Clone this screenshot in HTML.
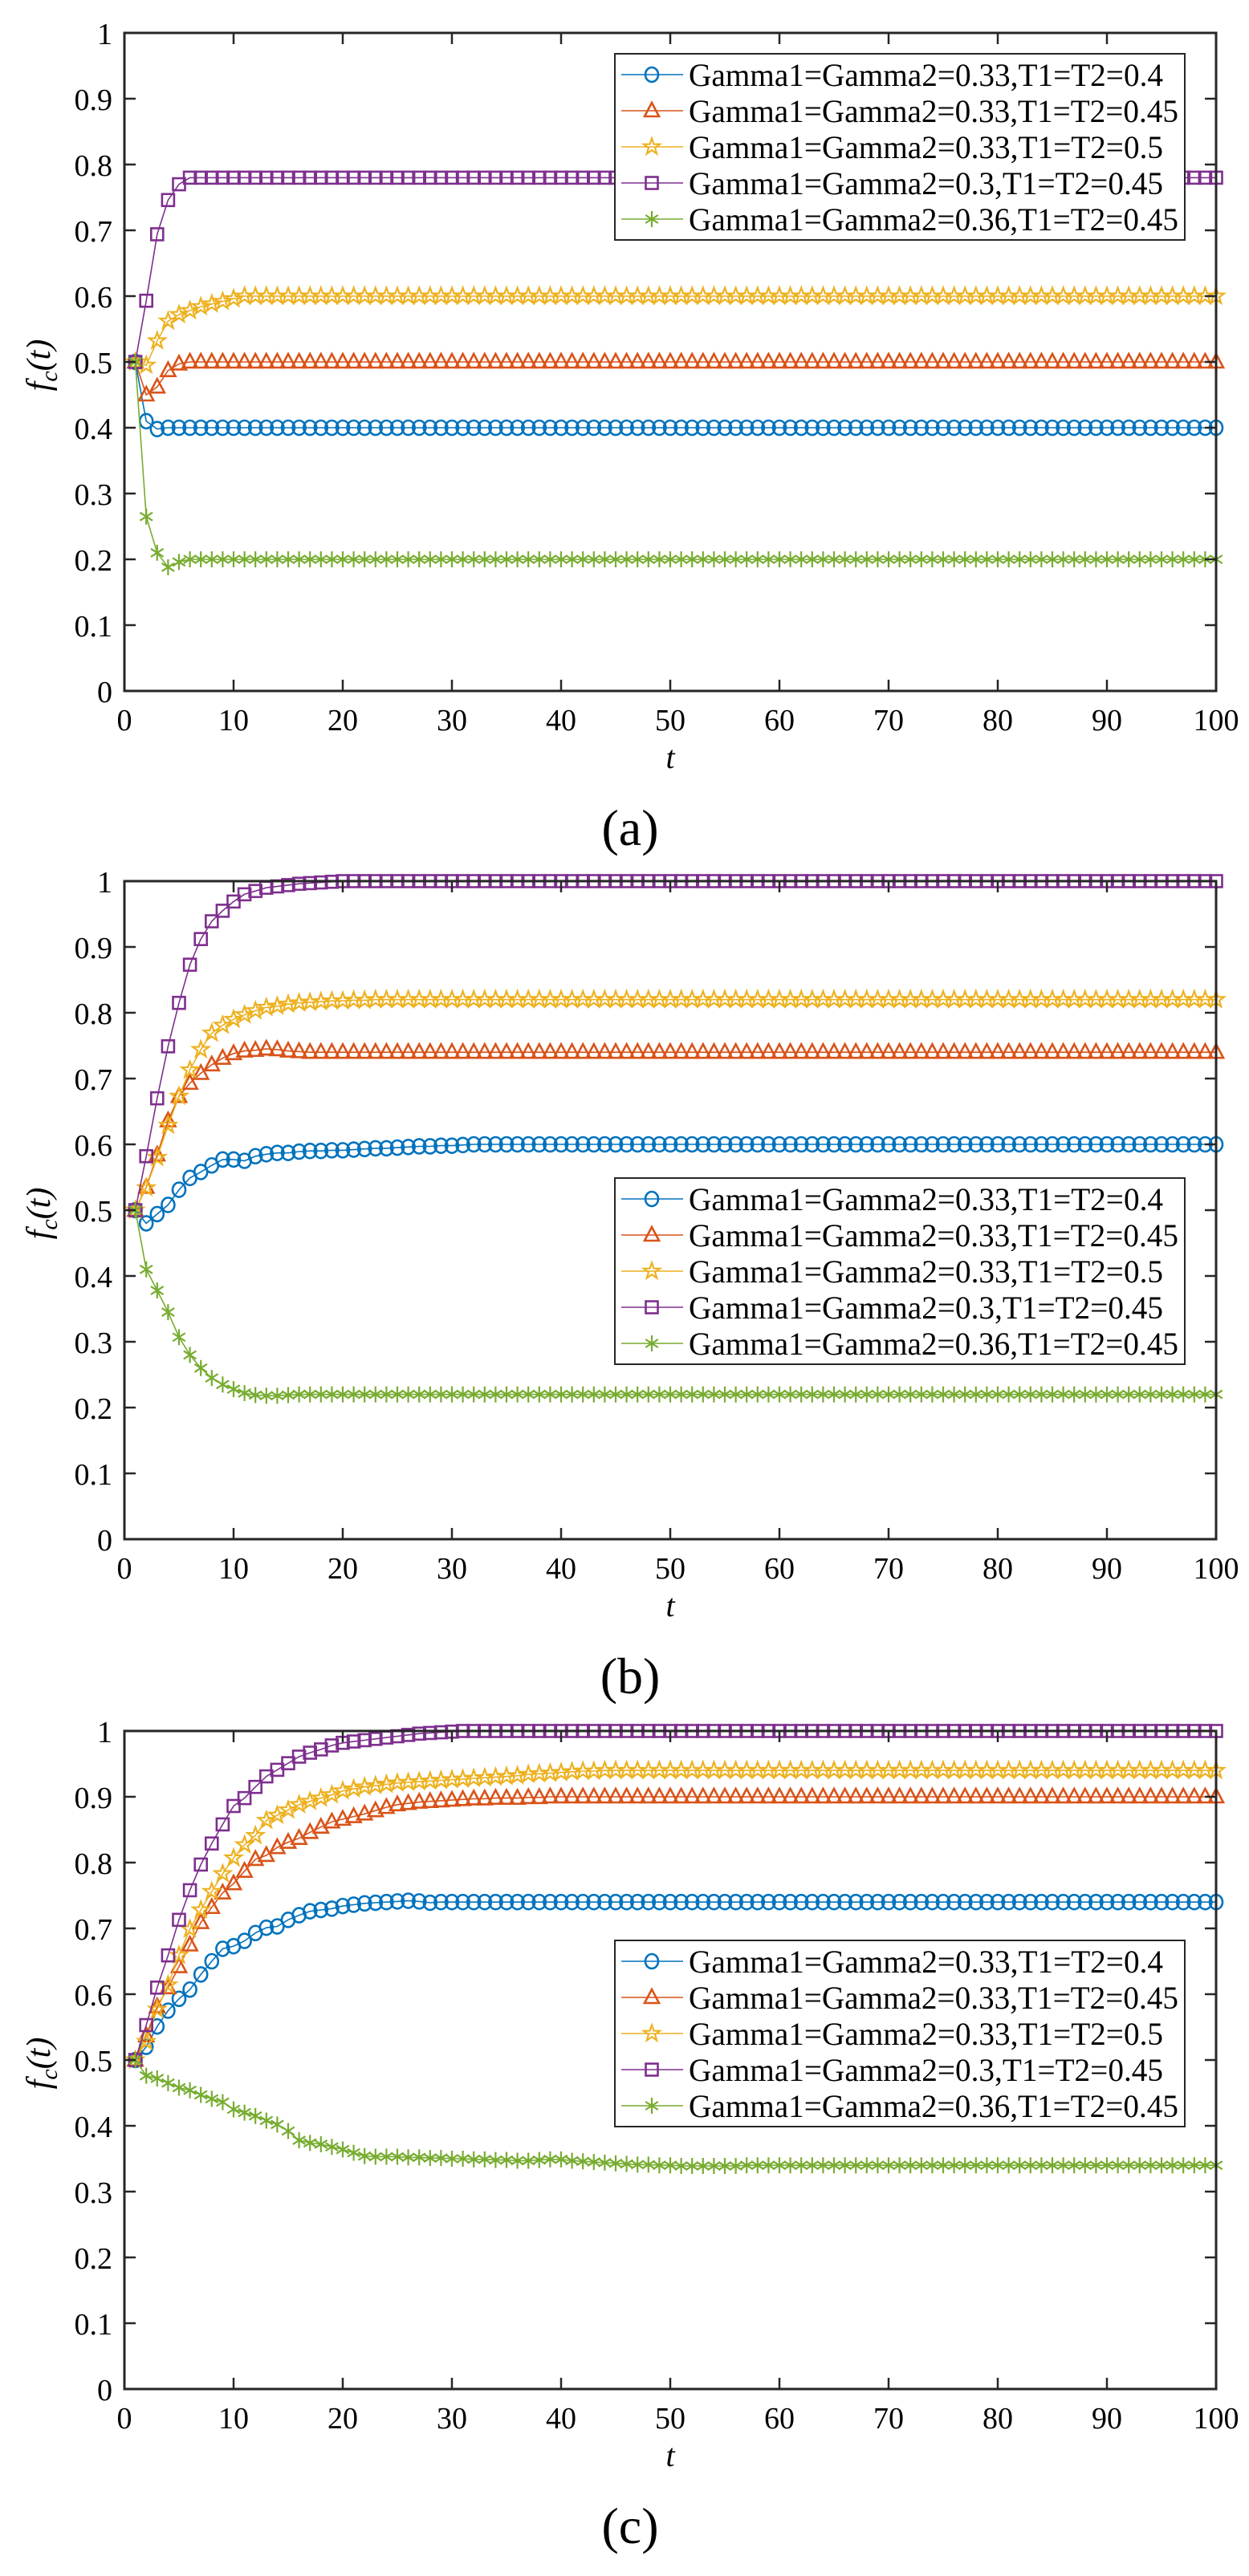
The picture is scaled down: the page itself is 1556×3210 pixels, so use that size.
<!DOCTYPE html>
<html><head><meta charset="utf-8"><style>
html,body{margin:0;padding:0;background:#fff;}
svg{display:block;}
text{font-family:"Liberation Serif",serif;fill:#000;}
</style></head><body>
<svg id="fig" width="1556" height="3210" viewBox="0 0 1556 3210" xmlns="http://www.w3.org/2000/svg"></svg>
<script>
const tValues=[];for(let i=1;i<=100;i++)tValues.push(i);
const xTicks=[0,10,20,30,40,50,60,70,80,90,100];
const yTicks=[0,0.1,0.2,0.3,0.4,0.5,0.6,0.7,0.8,0.9,1];
const yTickLabels=["0","0.1","0.2","0.3","0.4","0.5","0.6","0.7","0.8","0.9","1"];
const seriesNames=["Gamma1=Gamma2=0.33,T1=T2=0.4","Gamma1=Gamma2=0.33,T1=T2=0.45","Gamma1=Gamma2=0.33,T1=T2=0.5","Gamma1=Gamma2=0.3,T1=T2=0.45","Gamma1=Gamma2=0.36,T1=T2=0.45"];
const panelLabels=["(a)","(b)","(c)"];

const aBlue=[.5,.41,.398,.4,.4,.4,.4,.4,.4,.4,
.4,.4,.4,.4,.4,.4,.4,.4,.4,.4,.4,.4,.4,.4,.4,.4,.4,.4,.4,.4,.4,.4,.4,.4,.4,.4,.4,.4,.4,.4,.4,.4,.4,.4,.4,.4,.4,.4,.4,.4,
.4,.4,.4,.4,.4,.4,.4,.4,.4,.4,.4,.4,.4,.4,.4,.4,.4,.4,.4,.4,.4,.4,.4,.4,.4,.4,.4,.4,.4,.4,.4,.4,.4,.4,.4,.4,.4,.4,.4,.4,.4,.4,.4,.4,.4,.4,.4,.4,.4,.4];
const aOrange=[.5,.45,.462,.487,.497,.5,.5,.5,.5,.5,
.5,.5,.5,.5,.5,.5,.5,.5,.5,.5,.5,.5,.5,.5,.5,.5,.5,.5,.5,.5,.5,.5,.5,.5,.5,.5,.5,.5,.5,.5,.5,.5,.5,.5,.5,.5,.5,.5,.5,.5,
.5,.5,.5,.5,.5,.5,.5,.5,.5,.5,.5,.5,.5,.5,.5,.5,.5,.5,.5,.5,.5,.5,.5,.5,.5,.5,.5,.5,.5,.5,.5,.5,.5,.5,.5,.5,.5,.5,.5,.5,.5,.5,.5,.5,.5,.5,.5,.5,.5,.5];
const aYellow=[.5,.495,.532,.562,.572,.578,.584,.588,.592,.596,
.6,.6,.6,.6,.6,.6,.6,.6,.6,.6,.6,.6,.6,.6,.6,.6,.6,.6,.6,.6,.6,.6,.6,.6,.6,.6,.6,.6,.6,.6,.6,.6,.6,.6,.6,.6,.6,.6,.6,.6,
.6,.6,.6,.6,.6,.6,.6,.6,.6,.6,.6,.6,.6,.6,.6,.6,.6,.6,.6,.6,.6,.6,.6,.6,.6,.6,.6,.6,.6,.6,.6,.6,.6,.6,.6,.6,.6,.6,.6,.6,.6,.6,.6,.6,.6,.6,.6,.6,.6,.6];
const aPurple=[.5,.593,.694,.746,.77,.78,.78,.78,.78,.78,
.78,.78,.78,.78,.78,.78,.78,.78,.78,.78,.78,.78,.78,.78,.78,.78,.78,.78,.78,.78,.78,.78,.78,.78,.78,.78,.78,.78,.78,.78,.78,.78,.78,.78,.78,.78,.78,.78,.78,.78,
.78,.78,.78,.78,.78,.78,.78,.78,.78,.78,.78,.78,.78,.78,.78,.78,.78,.78,.78,.78,.78,.78,.78,.78,.78,.78,.78,.78,.78,.78,.78,.78,.78,.78,.78,.78,.78,.78,.78,.78,.78,.78,.78,.78,.78,.78,.78,.78,.78,.78];
const aGreen=[.5,.265,.21,.188,.196,.2,.2,.2,.2,.2,
.2,.2,.2,.2,.2,.2,.2,.2,.2,.2,.2,.2,.2,.2,.2,.2,.2,.2,.2,.2,.2,.2,.2,.2,.2,.2,.2,.2,.2,.2,.2,.2,.2,.2,.2,.2,.2,.2,.2,.2,
.2,.2,.2,.2,.2,.2,.2,.2,.2,.2,.2,.2,.2,.2,.2,.2,.2,.2,.2,.2,.2,.2,.2,.2,.2,.2,.2,.2,.2,.2,.2,.2,.2,.2,.2,.2,.2,.2,.2,.2,.2,.2,.2,.2,.2,.2,.2,.2,.2,.2];

const bBlue=[.5,.48,.494,.508,.531,.549,.558,.568,.577,.577,
.575,.582,.585,.587,.587,.589,.59,.59,.591,.591,
.592,.593,.594,.594,.595,.596,.597,.597,.598,.598,
.599,.6,.6,.6,.6,.6,.6,.6,.6,.6,.6,.6,.6,.6,.6,.6,.6,.6,.6,.6,
.6,.6,.6,.6,.6,.6,.6,.6,.6,.6,.6,.6,.6,.6,.6,.6,.6,.6,.6,.6,.6,.6,.6,.6,.6,.6,.6,.6,.6,.6,.6,.6,.6,.6,.6,.6,.6,.6,.6,.6,.6,.6,.6,.6,.6,.6,.6,.6,.6,.6];
const bOrange=[.5,.535,.584,.636,.673,.693,.708,.721,.731,.738,
.742,.743,.745,.744,.742,.741,.74,.74,.74,.74,.74,.74,.74,.74,.74,.74,.74,.74,.74,.74,.74,.74,.74,.74,.74,.74,.74,.74,.74,.74,.74,.74,.74,.74,.74,.74,.74,.74,.74,.74,
.74,.74,.74,.74,.74,.74,.74,.74,.74,.74,.74,.74,.74,.74,.74,.74,.74,.74,.74,.74,.74,.74,.74,.74,.74,.74,.74,.74,.74,.74,.74,.74,.74,.74,.74,.74,.74,.74,.74,.74,.74,.74,.74,.74,.74,.74,.74,.74,.74,.74];
const bYellow=[.5,.534,.58,.629,.673,.713,.744,.769,.781,.79,
.797,.803,.808,.81,.813,.815,.816,.817,.818,.818,
.819,.819,.82,.82,.82,.82,.82,.82,.82,.82,.82,.82,.82,.82,.82,.82,.82,.82,.82,.82,.82,.82,.82,.82,.82,.82,.82,.82,.82,.82,
.82,.82,.82,.82,.82,.82,.82,.82,.82,.82,.82,.82,.82,.82,.82,.82,.82,.82,.82,.82,.82,.82,.82,.82,.82,.82,.82,.82,.82,.82,.82,.82,.82,.82,.82,.82,.82,.82,.82,.82,.82,.82,.82,.82,.82,.82,.82,.82,.82,.82];
const bPurple=[.5,.582,.67,.749,.815,.873,.912,.939,.955,.969,
.98,.985,.99,.992,.994,.996,.997,.998,.999,1,1,1,1,1,1,1,1,1,1,1,1,1,1,1,1,1,1,1,1,1,1,1,1,1,1,1,1,1,1,1,
1,1,1,1,1,1,1,1,1,1,1,1,1,1,1,1,1,1,1,1,1,1,1,1,1,1,1,1,1,1,1,1,1,1,1,1,1,1,1,1,1,1,1,1,1,1,1,1,1,1];
const bGreen=[.5,.41,.378,.345,.307,.28,.26,.245,.235,.228,
.222,.219,.218,.218,.219,.22,.22,.22,.22,.22,.22,.22,.22,.22,.22,.22,.22,.22,.22,.22,.22,.22,.22,.22,.22,.22,.22,.22,.22,.22,.22,.22,.22,.22,.22,.22,.22,.22,.22,.22,
.22,.22,.22,.22,.22,.22,.22,.22,.22,.22,.22,.22,.22,.22,.22,.22,.22,.22,.22,.22,.22,.22,.22,.22,.22,.22,.22,.22,.22,.22,.22,.22,.22,.22,.22,.22,.22,.22,.22,.22,.22,.22,.22,.22,.22,.22,.22,.22,.22,.22];

const cBlue=[.5,.52,.551,.575,.593,.607,.63,.65,.669,.673,
.681,.693,.701,.703,.713,.72,.726,.728,.73,.734,
.736,.738,.739,.74,.741,.742,.741,.739,.74,.74,.74,.74,.74,.74,.74,.74,.74,.74,.74,.74,.74,.74,.74,.74,.74,.74,.74,.74,.74,.74,
.74,.74,.74,.74,.74,.74,.74,.74,.74,.74,.74,.74,.74,.74,.74,.74,.74,.74,.74,.74,.74,.74,.74,.74,.74,.74,.74,.74,.74,.74,.74,.74,.74,.74,.74,.74,.74,.74,.74,.74,.74,.74,.74,.74,.74,.74,.74,.74,.74,.74];
const cOrange=[.5,.537,.581,.61,.642,.675,.709,.732,.754,.768,
.787,.805,.811,.823,.831,.837,.846,.854,.862,.866,
.87,.874,.879,.884,.888,.89,.892,.893,.894,.895,
.896,.897,.897,.898,.898,.898,.899,.899,.9,.9,.9,.9,.9,.9,.9,.9,.9,.9,.9,.9,
.9,.9,.9,.9,.9,.9,.9,.9,.9,.9,.9,.9,.9,.9,.9,.9,.9,.9,.9,.9,.9,.9,.9,.9,.9,.9,.9,.9,.9,.9,.9,.9,.9,.9,.9,.9,.9,.9,.9,.9,.9,.9,.9,.9,.9,.9,.9,.9,.9,.9];
const cYellow=[.5,.528,.577,.614,.659,.699,.728,.756,.783,.807,
.827,.841,.864,.872,.88,.888,.893,.898,.903,.909,
.912,.915,.917,.919,.921,.922,.923,.924,.925,.926,
.927,.928,.929,.93,.931,.932,.934,.935,.936,.937,
.938,.939,.939,.94,.94,.94,.94,.94,.94,.94,
.94,.94,.94,.94,.94,.94,.94,.94,.94,.94,.94,.94,.94,.94,.94,.94,.94,.94,.94,.94,.94,.94,.94,.94,.94,.94,.94,.94,.94,.94,.94,.94,.94,.94,.94,.94,.94,.94,.94,.94,.94,.94,.94,.94,.94,.94,.94,.94,.94,.94];
const cPurple=[.5,.553,.61,.659,.713,.758,.797,.829,.858,.886,
.898,.915,.931,.941,.951,.961,.967,.972,.978,.982,
.984,.986,.988,.99,.992,.994,.996,.997,.998,.999,1,1,1,1,1,1,1,1,1,1,1,1,1,1,1,1,1,1,1,1,
1,1,1,1,1,1,1,1,1,1,1,1,1,1,1,1,1,1,1,1,1,1,1,1,1,1,1,1,1,1,1,1,1,1,1,1,1,1,1,1,1,1,1,1,1,1,1,1,1,1];
const cGreen=[.5,.476,.472,.465,.458,.454,.447,.441,.436,.425,
.42,.415,.408,.402,.392,.378,.374,.372,.368,.364,
.359,.354,.353,.353,.353,.352,.352,.351,.351,.35,
.35,.349,.349,.348,.348,.347,.347,.348,.349,.349,
.347,.346,.345,.344,.343,.342,.341,.341,.34,.34,
.339,.339,.339,.339,.339,.339,.34,.34,.34,.34,
.34,.34,.34,.34,.34,.34,.34,.34,.34,.34,.34,.34,.34,.34,.34,.34,.34,.34,.34,.34,.34,.34,.34,.34,.34,.34,.34,.34,.34,.34,.34,.34,.34,.34,.34,.34,.34,.34,.34,.34];

const panelA=[aBlue,aOrange,aYellow,aPurple,aGreen];
const panelB=[bBlue,bOrange,bYellow,bPurple,bGreen];
const panelC=[cBlue,cOrange,cYellow,cPurple,cGreen];

const NS="http://www.w3.org/2000/svg";
const svg=document.getElementById('fig');
const colors=["#0072BD","#D95319","#EDB120","#7E2F8E","#77AC30"];
const markerKinds=["circle","triangle","star","square","asterisk"];
const panels=[
 {data:panelA,top:41,legendTop:67,key:"a"},
 {data:panelB,top:1098,legendTop:1468,key:"b"},
 {data:panelC,top:2157,legendTop:2418,key:"c"}
];
const L=155,R=1515,H=820;

function el(tag,attrs,parent){const e=document.createElementNS(NS,tag);for(const k in attrs)e.setAttribute(k,attrs[k]);(parent||svg).appendChild(e);return e;}

function drawMarker(g,kind,x,y,c){
  const sw=2.6;let m;
  if(kind==="circle"){m=el('ellipse',{cx:x,cy:y,rx:8,ry:9,fill:'none',stroke:c,'stroke-width':sw},g);}
  else if(kind==="square"){m=el('rect',{x:x-7.5,y:y-7.5,width:15,height:15,fill:'none',stroke:c,'stroke-width':sw},g);}
  else if(kind==="triangle"){m=el('polygon',{points:`${x},${y-10} ${x-9},${y+7} ${x+9},${y+7}`,fill:'none',stroke:c,'stroke-width':sw},g);}
  else if(kind==="star"){let p=[];for(let i=0;i<10;i++){const r=i%2?4.2:10.5;const a=-Math.PI/2+i*Math.PI/5;p.push((x+r*Math.cos(a)).toFixed(1)+","+(y+r*Math.sin(a)).toFixed(1));}
    m=el('polygon',{points:p.join(' '),fill:'none',stroke:c,'stroke-width':2.2},g);}
  else {let d="";for(let i=0;i<3;i++){const a=Math.PI/2+i*Math.PI/3;const dx=9*Math.cos(a),dy=10*Math.sin(a);d+=`M${x-dx},${y-dy}L${x+dx},${y+dy}`;}
    m=el('path',{d:d,fill:'none',stroke:c,'stroke-width':2.2},g);}
  return m;
}

panels.forEach((p,pi)=>{
  const T=p.top,B=p.top+H;
  const xs=t=>L+(R-L)*t/100;
  const ys=v=>B-H*v;
  const g=el('g',{});
  
  
  // series
  p.data.forEach((vals,si)=>{
    const sg=el('g',{},g);
    
    
    const pts=vals.map((v,i)=>xs(tValues[i]).toFixed(1)+','+ys(v).toFixed(1)).join(' ');
    const line=el('polyline',{points:pts,fill:'none',stroke:colors[si],'stroke-width':1.6},sg);
    
    
    vals.forEach((v,i)=>{
      const m=drawMarker(sg,markerKinds[si],xs(tValues[i]),ys(v),colors[si]);
      
      
    });
  });
  // axes box
  const box=el('rect',{x:L,y:T,width:R-L,height:H,fill:'none',stroke:'#262626','stroke-width':3},g);
  
  
  xTicks.forEach((t,i)=>{
    const x=xs(t);
    el('line',{x1:x,y1:B,x2:x,y2:B-14,stroke:'#262626','stroke-width':2.5},g);
    el('line',{x1:x,y1:T,x2:x,y2:T+14,stroke:'#262626','stroke-width':2.5},g);
    const tx=el('text',{x:x,y:B+49,'font-size':38,'text-anchor':'middle'},g);
    tx.textContent=String(t);
    
    
  });
  yTicks.forEach((v,i)=>{
    const y=ys(v);
    el('line',{x1:L,y1:y,x2:L+14,y2:y,stroke:'#262626','stroke-width':2.5},g);
    el('line',{x1:R,y1:y,x2:R-14,y2:y,stroke:'#262626','stroke-width':2.5},g);
    const tx=el('text',{x:140,y:y+14,'font-size':38,'text-anchor':'end'},g);
    tx.textContent=yTickLabels[i];
    
    
  });
  const xl=el('text',{x:835,y:B+96,'font-size':40,'font-style':'italic','text-anchor':'middle'},g);
  xl.textContent='t';
  
  
  const yl=el('text',{x:0,y:0,'font-size':42,'font-style':'italic','text-anchor':'middle',transform:`translate(62,${(T+B)/2+4}) rotate(-90)`},g);
  yl.innerHTML='f<tspan font-size="30" dy="9">c</tspan><tspan dy="-9">(t)</tspan>';
  
  
  const pl=el('text',{x:785,y:B+192,'font-size':64,'text-anchor':'middle'},g);
  pl.textContent=panelLabels[pi];
  
  
  // legend
  const lg=el('g',{},g);
  
  
  const LT=p.legendTop;
  el('rect',{x:766,y:LT,width:710,height:232,fill:'#fff',stroke:'#262626','stroke-width':2},lg);
  seriesNames.forEach((n,si)=>{
    const y=LT+26+45*si;
    const eg=el('g',{},lg);
    
    
    el('line',{x1:774,y1:y,x2:851,y2:y,stroke:colors[si],'stroke-width':1.6},eg);
    drawMarker(eg,markerKinds[si],812,y,colors[si]);
    const w=n.length===29?610:591;
    const tx=el('text',{x:858,y:y+14,'font-size':40,textLength:w,lengthAdjust:'spacingAndGlyphs'},eg);
    tx.textContent=n;
  });
});
</script>
</body></html>
